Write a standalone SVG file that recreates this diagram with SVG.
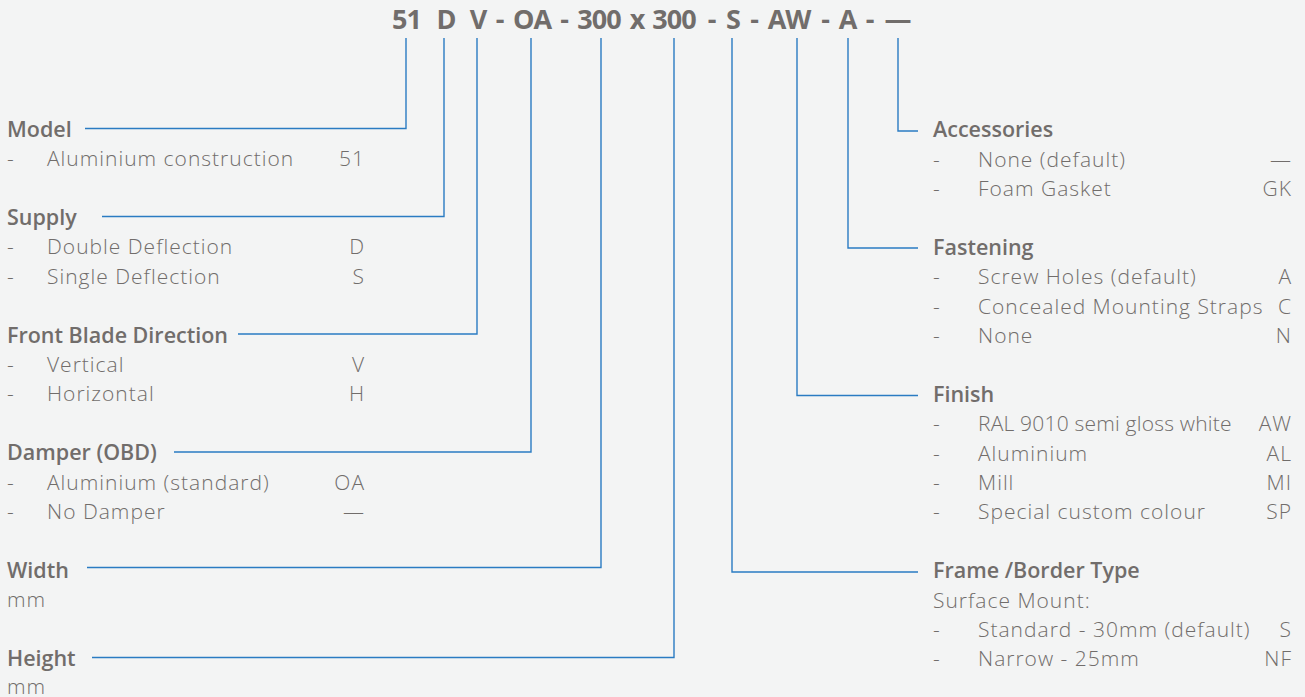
<svg xmlns="http://www.w3.org/2000/svg" width="1305" height="697" viewBox="0 0 1305 697">
<style>
.bg{fill:#f3f4f4}
.t{font-family:"Open Sans","Noto Sans","Liberation Sans",sans-serif;fill:#716d6b}
.title{font-size:27px;font-weight:700;text-anchor:middle;letter-spacing:-1px}
.h{font-size:21.5px;font-weight:600}
.i{font-size:21px;font-weight:300;letter-spacing:1px}
.v{text-anchor:end}
.tight{letter-spacing:0.2px}
.c{fill:none;stroke:#2a7bc2;stroke-width:1.4}
</style>
<rect class="bg" x="0" y="0" width="1305" height="697"/>
<g id="code" class="t title">
<text x="406.5" y="29">51</text>
<text x="446" y="29">D</text>
<text x="478" y="29">V</text>
<text x="499.5" y="29">-</text>
<text x="532" y="29">OA</text>
<text x="564" y="29">-</text>
<text x="599" y="29">300</text>
<text x="637" y="29">x</text>
<text x="674" y="29">300</text>
<text x="711.5" y="29">-</text>
<text x="733" y="29">S</text>
<text x="754" y="29">-</text>
<text x="789" y="29">AW</text>
<text x="825" y="29">-</text>
<text x="847.5" y="29">A</text>
<text x="869.5" y="29">-</text>
<text x="897.5" y="29">—</text>
</g>
<g id="connectors">
<polyline class="c" points="406,38 406,128.5 85,128.5"/>
<polyline class="c" points="444,38 444,216.5 102,216.5"/>
<polyline class="c" points="477,38 477,334 238,334"/>
<polyline class="c" points="531,38 531,452 174,452"/>
<polyline class="c" points="601,38 601,567.5 87,567.5"/>
<polyline class="c" points="674,38 674,657.5 92,657.5"/>
<polyline class="c" points="732,38 732,572 918,572"/>
<polyline class="c" points="797,38 797,395.5 918,395.5"/>
<polyline class="c" points="848,38 848,248 918,248"/>
<polyline class="c" points="898,38 898,131 918,131"/>
</g>
<g id="model" class="t">
<text class="h" x="7" y="136.5">Model</text>
<text class="i" x="7" y="166">-</text><text class="i" x="47" y="166">Aluminium construction</text><text class="i v" x="365" y="166">51</text>
</g>
<g id="supply" class="t">
<text class="h" x="7" y="224.5">Supply</text>
<text class="i" x="7" y="254">-</text><text class="i" x="47" y="254">Double Deflection</text><text class="i v" x="365" y="254">D</text>
<text class="i" x="7" y="283.5">-</text><text class="i" x="47" y="283.5">Single Deflection</text><text class="i v" x="365" y="283.5">S</text>
</g>
<g id="front-blade" class="t">
<text class="h" x="7" y="342.5">Front Blade Direction</text>
<text class="i" x="7" y="372">-</text><text class="i" x="47" y="372">Vertical</text><text class="i v" x="365" y="372">V</text>
<text class="i" x="7" y="401">-</text><text class="i" x="47" y="401">Horizontal</text><text class="i v" x="365" y="401">H</text>
</g>
<g id="damper" class="t">
<text class="h" x="7" y="460">Damper (OBD)</text>
<text class="i" x="7" y="489.5">-</text><text class="i" x="47" y="489.5">Aluminium (standard)</text><text class="i v" x="365" y="489.5">OA</text>
<text class="i" x="7" y="518.5">-</text><text class="i" x="47" y="518.5">No Damper</text><text class="i v" x="365" y="518.5">—</text>
</g>
<g id="width" class="t">
<text class="h" x="7" y="577.5">Width</text>
<text class="i" x="7" y="607">mm</text>
</g>
<g id="height" class="t">
<text class="h" x="7" y="665.5">Height</text>
<text class="i" x="7" y="693.5">mm</text>
</g>
<g id="accessories" class="t">
<text class="h" x="933" y="137">Accessories</text>
<text class="i" x="933" y="166.5">-</text><text class="i" x="978" y="166.5">None (default)</text><text class="i v" x="1292" y="166.5">—</text>
<text class="i" x="933" y="196">-</text><text class="i" x="978" y="196">Foam Gasket</text><text class="i v" x="1292" y="196">GK</text>
</g>
<g id="fastening" class="t">
<text class="h" x="933" y="255">Fastening</text>
<text class="i" x="933" y="284">-</text><text class="i" x="978" y="284">Screw Holes (default)</text><text class="i v" x="1292" y="284">A</text>
<text class="i" x="933" y="313.5">-</text><text class="i" x="978" y="313.5">Concealed Mounting Straps</text><text class="i v" x="1292" y="313.5">C</text>
<text class="i" x="933" y="343">-</text><text class="i" x="978" y="343">None</text><text class="i v" x="1292" y="343">N</text>
</g>
<g id="finish" class="t">
<text class="h" x="933" y="402">Finish</text>
<text class="i" x="933" y="431">-</text><text class="i tight" x="978" y="431">RAL 9010 semi gloss white</text><text class="i v" x="1292" y="431">AW</text>
<text class="i" x="933" y="460.5">-</text><text class="i" x="978" y="460.5">Aluminium</text><text class="i v" x="1292" y="460.5">AL</text>
<text class="i" x="933" y="490">-</text><text class="i" x="978" y="490">Mill</text><text class="i v" x="1292" y="490">MI</text>
<text class="i" x="933" y="519">-</text><text class="i" x="978" y="519">Special custom colour</text><text class="i v" x="1292" y="519">SP</text>
</g>
<g id="frame" class="t">
<text class="h" x="933" y="578">Frame /Border Type</text>
<text class="i" x="933" y="607.5">Surface Mount:</text>
<text class="i" x="933" y="637">-</text><text class="i" x="978" y="637">Standard - 30mm (default)</text><text class="i v" x="1292" y="637">S</text>
<text class="i" x="933" y="666">-</text><text class="i" x="978" y="666">Narrow - 25mm</text><text class="i v" x="1292" y="666">NF</text>
</g>
</svg>
